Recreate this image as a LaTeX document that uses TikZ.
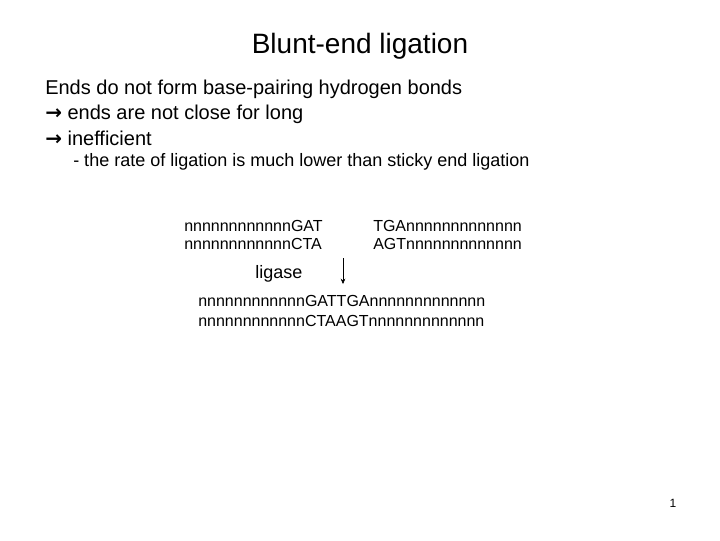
\documentclass[tikz,border=0pt]{standalone}
\usepackage{fontspec}
\setmainfont{Liberation Sans}
\newfontfamily\arrowfont{DejaVu Sans}
\usetikzlibrary{arrows.meta}
\tikzset{
  body/.style={anchor=west,inner sep=0.75pt,font=\fontsize{15}{18}\selectfont},
  seq/.style={anchor=west,inner sep=0.75pt,font=\fontsize{12}{14}\selectfont},
}
\newcommand{\rarr}{{\arrowfont\bfseries →}}
\begin{document}
\begin{tikzpicture}[x=0.75pt,y=0.75pt,yscale=-1,xscale=1]
\useasboundingbox (0,0) rectangle (720,540);

% Title
\node (title) at (360,46) [inner sep=0.75pt,font=\fontsize{21}{25}\selectfont] {Blunt-end ligation};

% Text Nodes
\node (l1) at (44,89) [body] {Ends do not form base-pairing hydrogen bonds};
\node (l2) at (44,114) [body] {\rarr\ ends are not close for long};
\node (l3) at (44,138) [body] {\rarr\ inefficient};
\node (l4) at (72,162) [body,font=\fontsize{13.5}{16}\selectfont] {- the rate of ligation is much lower than sticky end ligation};

% Sequences
\node (lt) at (183,226) [seq] {nnnnnnnnnnnnGAT};
\node (lb) at (183,244) [seq] {nnnnnnnnnnnnCTA};
\node (rt) at (372,226) [seq] {TGAnnnnnnnnnnnnn};
\node (rb) at (372,244) [seq] {AGTnnnnnnnnnnnnn};
\node (lig) at (254,274) [seq,font=\fontsize{13.5}{16}\selectfont] {ligase};
\coordinate (a1) at (343,258);
\coordinate (a2) at (343,284);
\draw [-{Stealth[length=4pt,width=3.5pt]}] (a1) -- (a2);
\node (pt) at (197,301) [seq] {nnnnnnnnnnnnGATTGAnnnnnnnnnnnnn};
\node (pb) at (197,321) [seq] {nnnnnnnnnnnnCTAAGTnnnnnnnnnnnnn};

% Page number
\node (pg) at (673,503) [inner sep=0.75pt,font=\fontsize{9}{11}\selectfont] {1};
\end{tikzpicture}
\end{document}
